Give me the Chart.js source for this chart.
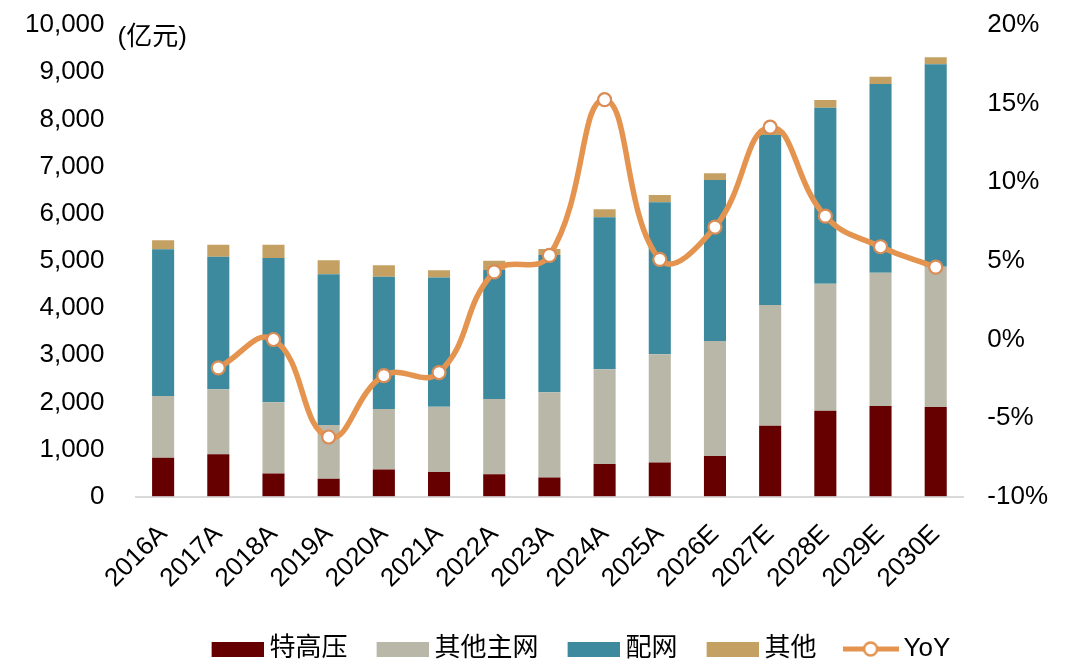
<!DOCTYPE html>
<html>
<head>
<meta charset="utf-8">
<script src="https://cdn.jsdelivr.net/npm/chart.js@4"></script>
<style>
  html, body { margin:0; padding:0; background:#fff; }
  #wrap { width:1080px; height:669px; }
</style>
</head>
<body>
<div id="wrap"><canvas id="chart"></canvas></div>
<script>
const years = ["2016A","2017A","2018A","2019A","2020A","2021A","2022A","2023A","2024A","2025A","2026E","2027E","2028E","2029E","2030E"];
// 亿元
const uhv      = [827, 899, 496, 382, 580, 524, 475, 411, 693, 729, 863, 1505, 1823, 1923, 1902];
const mainGrid = [1308, 1378, 1505, 1138, 1279, 1384, 1596, 1802, 2008, 2290, 2438, 2559, 2693, 2826, 2974];
const distGrid = [3110, 2811, 3059, 3195, 2805, 2742, 2735, 2911, 3222, 3222, 3413, 3604, 3731, 4000, 4291];
const others   = [195, 254, 282, 297, 242, 150, 197, 127, 170, 155, 142, 110, 163, 155, 148];
// %
const yoy = [null, -1.8, 0.0, -6.2, -2.3, -2.1, 4.3, 5.35, 15.25, 5.1, 7.15, 13.5, 7.85, 5.9, 4.6];

const FONT = "'Liberation Sans', Arial, 'Noto Sans CJK SC', sans-serif";
const C_RED = "#660000", C_GREY = "#B9B8A8", C_BLUE = "#3D8A9F", C_GOLD = "#C4A062", C_LINE = "#E4944F";
const NOCOLOR = "rgba(0,0,0,0)";

// legend symbols
function rectIcon(color){
  const c = document.createElement("canvas");
  c.width = 54; c.height = 15;
  const g = c.getContext("2d");
  g.fillStyle = color;
  g.fillRect(2, 0, 52, 15);
  return c;
}
function lineIcon(){
  const c = document.createElement("canvas");
  c.width = 56; c.height = 18;
  const g = c.getContext("2d");
  g.strokeStyle = C_LINE; g.lineWidth = 5;
  g.beginPath(); g.moveTo(0, 9); g.lineTo(56, 9); g.stroke();
  g.fillStyle = "#fff"; g.lineWidth = 2.5;
  g.beginPath(); g.arc(28, 9, 6.5, 0, Math.PI*2); g.fill(); g.stroke();
  return c;
}
const icons = [rectIcon(C_RED), rectIcon(C_GREY), rectIcon(C_BLUE), rectIcon(C_GOLD), lineIcon()];

const unitLabel = {
  id: "unitLabel",
  afterLayout(chart){
    // legend sits a bit right of centre in the original
    const lg = chart.legend;
    lg.left += 47; lg.right += 47;
    lg.top -= 6; lg.bottom -= 6;
  },
  afterDraw(chart){
    const ctx = chart.ctx, y = chart.scales.y;
    ctx.save();
    ctx.font = "26px " + FONT;
    ctx.fillStyle = "#000";
    ctx.textAlign = "left";
    ctx.textBaseline = "middle";
    ctx.fillText("(亿元)", chart.chartArea.left - 18, y.getPixelForValue(10000) + 13);
    ctx.restore();
  }
};

const bar = (label, data, color) => ({
  type: "bar", label, data, backgroundColor: color, yAxisID: "y", stack: "s",
  barPercentage: 0.4, categoryPercentage: 1, order: 1
});

new Chart(document.getElementById("chart"), {
  data: {
    labels: years,
    datasets: [
      bar("特高压", uhv, C_RED),
      bar("其他主网", mainGrid, C_GREY),
      bar("配网", distGrid, C_BLUE),
      bar("其他", others, C_GOLD),
      {
        type: "line", label: "YoY", data: yoy, yAxisID: "y1", order: 0,
        borderColor: C_LINE, borderWidth: 5.5, tension: 0.45,
        pointRadius: 6.5, pointBackgroundColor: "#fff", pointBorderColor: "#D98C55", pointBorderWidth: 2.2
      }
    ]
  },
  options: {
    responsive: true,
    maintainAspectRatio: false,
    animation: false,
    layout: { padding: { top: 25, left: 25, right: 32, bottom: -9 } },
    scales: {
      x: {
        stacked: true,
        grid: { display: false },
        border: { color: "#D9D9D9", width: 2 },
        ticks: { color: "#000", font: { family: FONT, size: 26 }, minRotation: 45, maxRotation: 45, padding: 14 }
      },
      y: {
        stacked: true, min: 0, max: 10000,
        grid: { display: true, drawOnChartArea: false, drawTicks: true, tickLength: 31, tickColor: NOCOLOR, color: NOCOLOR },
        border: { display: false },
        ticks: { stepSize: 1000, color: "#000", padding: 0, font: { family: FONT, size: 26 },
          callback: v => v.toLocaleString("en-US") }
      },
      y1: {
        position: "right", min: -10, max: 20,
        grid: { display: true, drawOnChartArea: false, drawTicks: true, tickLength: 24, tickColor: NOCOLOR, color: NOCOLOR },
        border: { display: false },
        ticks: { stepSize: 5, color: "#000", padding: 0, font: { family: FONT, size: 26 },
          callback: v => v + "%" }
      }
    },
    plugins: {
      tooltip: { enabled: false },
      legend: {
        position: "bottom",
        labels: {
          usePointStyle: true,
          pointStyleWidth: 40,
          boxHeight: 15,
          padding: 34,
          color: "#000",
          font: { family: FONT, size: 26 },
          sort: (a, b) => a.datasetIndex - b.datasetIndex,
          generateLabels(chart){
            const items = Chart.defaults.plugins.legend.labels.generateLabels(chart);
            items.forEach(it => { it.pointStyle = icons[it.datasetIndex]; });
            return items;
          }
        }
      }
    }
  },
  plugins: [unitLabel]
});
</script>
</body>
</html>
